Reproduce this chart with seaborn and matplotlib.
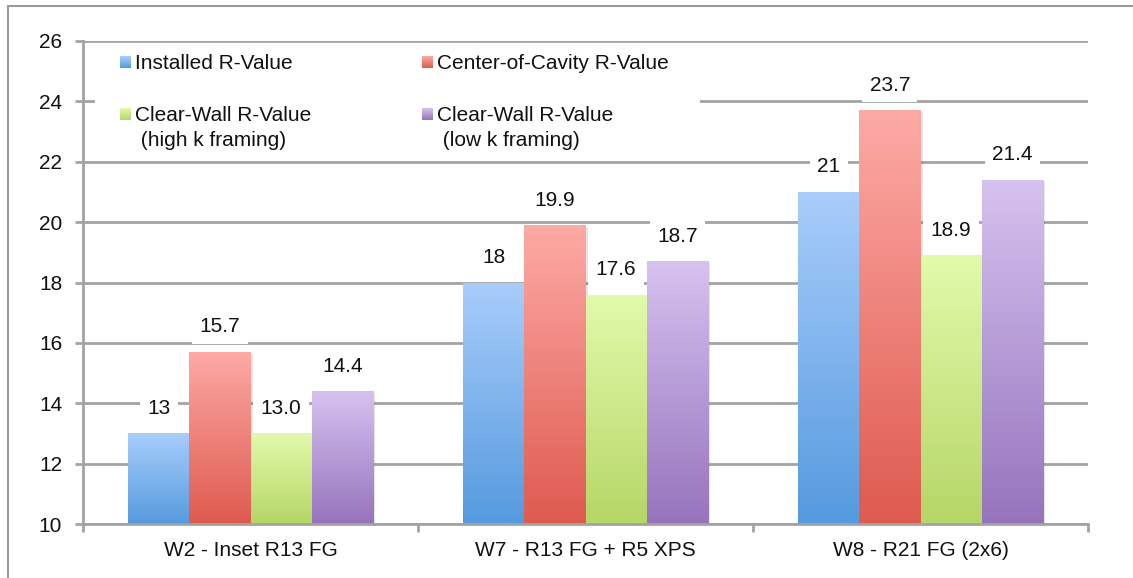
import numpy as np
import pandas as pd
import matplotlib
matplotlib.use("Agg")
import matplotlib.pyplot as plt
import seaborn as sns
from matplotlib.colors import LinearSegmentedColormap
from matplotlib.patches import Rectangle
from matplotlib.lines import Line2D

categories = ["W2 - Inset R13 FG", "W7 - R13 FG + R5 XPS", "W8 - R21 FG (2x6)"]
series = ["Installed R-Value", "Center-of-Cavity R-Value",
          "Clear-Wall R-Value (high k framing)", "Clear-Wall R-Value (low k framing)"]
installed = [13, 18, 21]
center_cavity = [15.7, 19.9, 23.7]
clear_high_k = [13.0, 17.6, 18.9]
clear_low_k = [14.4, 18.7, 21.4]
label_texts = [["13", "18", "21"], ["15.7", "19.9", "23.7"],
               ["13.0", "17.6", "18.9"], ["14.4", "18.7", "21.4"]]
legend_lines = [["Installed R-Value"], ["Center-of-Cavity R-Value"],
                ["Clear-Wall R-Value", " (high k framing)"],
                ["Clear-Wall R-Value", " (low k framing)"]]

top_colors = ["#a9cdfc", "#fdaaa5", "#e2faab", "#d6c2ef"]
bot_colors = ["#559ade", "#de5a4f", "#b6d667", "#9674bd"]

YMIN, YMAX = 10, 26

df = pd.DataFrame({
    "category": categories * 4,
    "series": np.repeat(series, 3),
    "value": installed + center_cavity + clear_high_k + clear_low_k,
})

sns.set_theme(style="white")
plt.rcParams["font.family"] = ["Liberation Sans", "DejaVu Sans"]

fig = plt.figure(figsize=(11.33, 5.78), dpi=100)
ax = fig.add_axes([83 / 1133, 54 / 578, 1005 / 1133, 483 / 578])

sns.barplot(data=df, x="category", y="value", hue="series", hue_order=series,
            palette=bot_colors, width=0.73, legend=False, ax=ax,
            saturation=1, edgecolor="none", zorder=3)

ax.set_ylim(YMIN, YMAX)
ax.set_xlim(-0.5, 2.5)

# gradients (bars start at the axis floor)
for i, cont in enumerate(ax.containers):
    cmap = LinearSegmentedColormap.from_list(f"g{i}", [bot_colors[i], top_colors[i]])
    grad = np.linspace(0, 1, 256).reshape(-1, 1)
    for j, bar in enumerate(cont):
        top = bar.get_y() + bar.get_height()
        bar.set_y(YMIN)
        bar.set_height(top - YMIN)
        x0 = bar.get_x(); w = bar.get_width()
        sh = Rectangle((x0 + 0.007, YMIN), w, top - YMIN - 0.06, facecolor="#000000",
                       alpha=0.10, edgecolor="none", zorder=2.5)
        ax.add_patch(sh)
        im = ax.imshow(grad, extent=[x0, x0 + w, YMIN, top], origin="lower",
                       cmap=cmap, aspect="auto", zorder=4, interpolation="bilinear")
        im.set_clip_path(bar)
        ax.annotate(label_texts[i][j], (x0 + w / 2, top), xytext=(0, 18),
                    textcoords="offset points", ha="center", va="center",
                    fontsize=15, color="#111111", zorder=6,
                    bbox=dict(boxstyle="square,pad=0.35", fc="white", ec="none"))

ax.set_yticks(np.arange(YMIN, YMAX + 1, 2))
ax.yaxis.grid(True, color="#a3a3a3", linewidth=2.0, zorder=0)
ax.set_axisbelow(True)
ax.xaxis.grid(False)
ax.set_xlabel("")
ax.set_ylabel("")

for s in ["top", "right"]:
    ax.spines[s].set_visible(False)
for s in ["left", "bottom"]:
    ax.spines[s].set_color("#a3a3a3")
    ax.spines[s].set_linewidth(2.0)
    ax.spines[s].set_zorder(5)

ax.tick_params(axis="y", which="major", left=True, length=6, width=2, color="#a3a3a3",
               labelsize=15, pad=9, labelcolor="#111111")
ax.tick_params(axis="x", which="major", bottom=False, length=0, labelsize=15, pad=12,
               labelcolor="#111111")
ax.set_xticks([-0.5, 0.5, 1.5, 2.5], minor=True)
ax.tick_params(axis="x", which="minor", bottom=True, length=6, width=2, color="#a3a3a3",
               direction="out")

# legend (manual, white block covering grid)
def px2data(px, py):
    return (px - 83) / 335 - 0.5, YMIN + (524 - py) / 30.19

lx0, ly0 = px2data(95, 150)
lx1, ly1 = px2data(700, 48)
ax.add_patch(Rectangle((lx0, ly0), lx1 - lx0, ly1 - ly0, facecolor="white",
                       edgecolor="none", zorder=1))

legend_pos = [(120, 62), (422, 62), (120, 114), (422, 114)]
for i, (px, py) in enumerate(legend_pos):
    sx0, sy0 = px2data(px, py + 6)
    sx1, sy1 = px2data(px + 11, py - 6)
    cmap = LinearSegmentedColormap.from_list(f"l{i}", [bot_colors[i], top_colors[i]])
    ax.imshow(np.linspace(0, 1, 64).reshape(-1, 1), extent=[sx0, sx1, sy0, sy1],
              origin="lower", cmap=cmap, aspect="auto", zorder=5)
    for k, line in enumerate(legend_lines[i]):
        tx, ty = px2data(px + 15, py + 1 + 25 * k)
        ax.text(tx, ty, line, fontsize=15, ha="left", va="center", color="#111111", zorder=6)

ax.set_xlim(-0.5, 2.5)
ax.set_ylim(YMIN, YMAX)

# outer frame
fig.add_artist(Line2D([8 / 1133, 8 / 1133], [0, 1 - 6 / 578], transform=fig.transFigure,
                      color="#9a9a9a", linewidth=1.5))
fig.add_artist(Line2D([8 / 1133, 1], [1 - 6 / 578, 1 - 6 / 578], transform=fig.transFigure,
                      color="#9a9a9a", linewidth=1.5))

fig.savefig("out.png", dpi=100)
